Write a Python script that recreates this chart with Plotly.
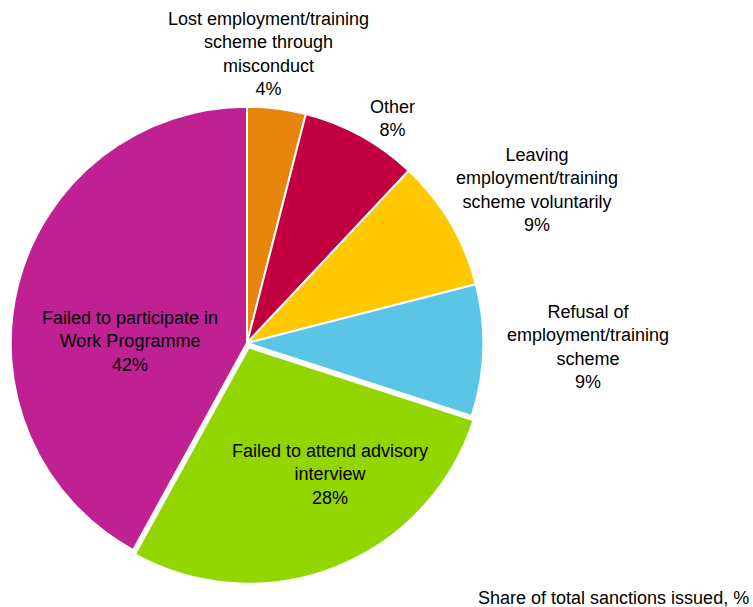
import plotly.graph_objects as go

# Sanction reasons, clockwise from 12 o'clock
reasons = [
    "Lost employment/training<br>scheme through<br>misconduct",
    "Other",
    "Leaving<br>employment/training<br>scheme voluntarily",
    "Refusal of<br>employment/training<br>scheme",
    "Failed to attend advisory<br>interview",
    "Failed to participate in<br>Work Programme",
]
shares = [4, 8, 9, 9, 28, 42]
colors = ["#E8850C", "#C20041", "#FFC800", "#5BC5E8", "#93D500", "#BF2193"]

# Label anchor points (pixels in the 753x607 canvas)
label_px = [(268, 54), (392, 118), (537, 190), (588, 347), (330, 474), (130, 341)]

W, H = 753, 607
FONT = dict(family="Liberation Sans, Arial, sans-serif", size=18, color="#000000")

fig = go.Figure(
    go.Pie(
        labels=[r.replace("<br>", " ") for r in reasons],
        values=shares,
        sort=False,
        direction="clockwise",
        rotation=0,
        marker=dict(colors=colors, line=dict(color="white", width=2)),
        pull=[0, 0, 0, 0, 0.02, 0],
        textinfo="none",
        hoverinfo="label+percent",
        domain=dict(x=[(247 - 241) / W, (247 + 241) / W], y=[1 - 584 / H, 1 - 102 / H]),
        showlegend=False,
    )
)

for text, val, (px, py) in zip(reasons, shares, label_px):
    fig.add_annotation(
        x=px / W, y=1 - py / H, xref="paper", yref="paper",
        text=f"{text}<br>{val}%", showarrow=False,
        xanchor="center", yanchor="middle", align="center",
        font=FONT,
    )

fig.add_annotation(
    x=1 - 2 / W, y=1 - 598 / H, xref="paper", yref="paper",
    text="Share of total sanctions issued, %", showarrow=False,
    xanchor="right", yanchor="middle",
    font=FONT,
)

fig.update_layout(
    width=W, height=H,
    margin=dict(l=0, r=0, t=0, b=0),
    paper_bgcolor="white", plot_bgcolor="white",
)

fig.write_html("out.html")
